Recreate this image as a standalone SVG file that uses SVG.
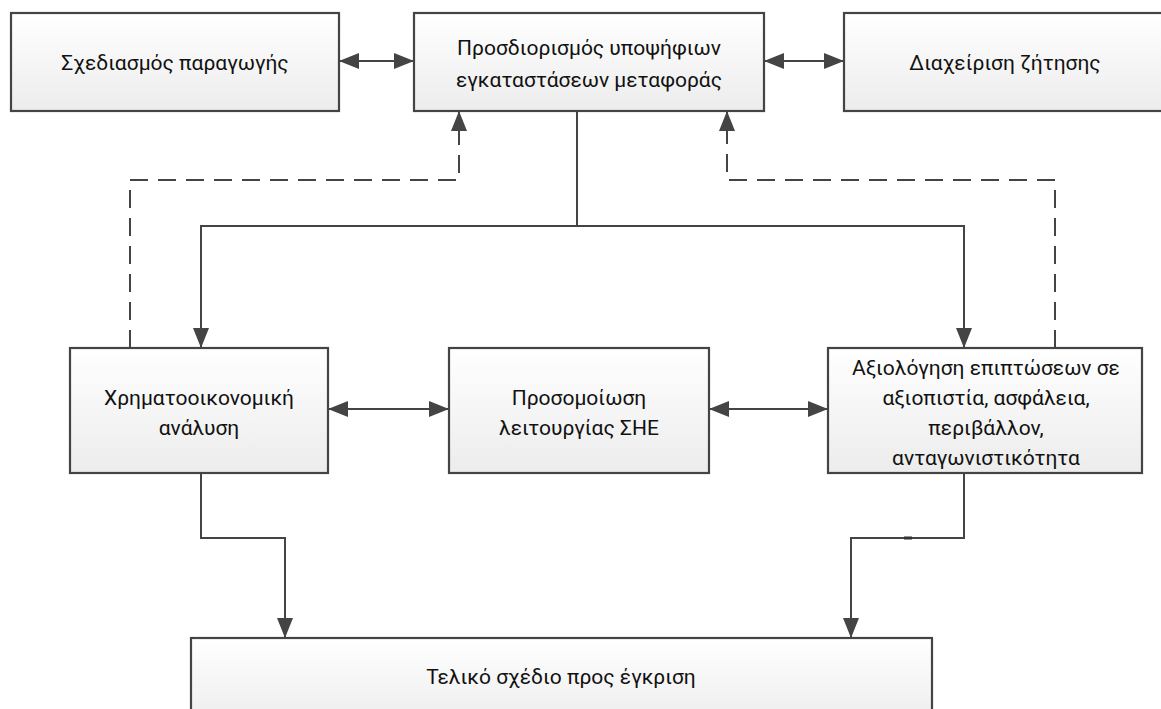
<svg xmlns="http://www.w3.org/2000/svg" width="1161" height="709" viewBox="0 0 1161 709">
<style>
.box{fill:url(#g);stroke:#444;stroke-width:2.2}
.t{font-family:Roboto,"Noto Sans",sans-serif;font-size:21px;fill:#111;text-anchor:middle}
.c{fill:none;stroke:#444;stroke-width:2}
.d{fill:none;stroke:#444;stroke-width:2;stroke-dasharray:18 10}
</style>
<defs>
<linearGradient id="g" x1="0" y1="0" x2="0" y2="1">
<stop offset="0" stop-color="#ffffff"/>
<stop offset="1" stop-color="#ececec"/>
</linearGradient>
<marker id="a" viewBox="0 0 20 16" refX="20" refY="8" markerWidth="20" markerHeight="16" markerUnits="userSpaceOnUse" orient="auto-start-reverse">
<path d="M0,0 L20,8 L0,16 Z" fill="#444"/>
</marker>
</defs>
<g id="connectors">
<path class="c" d="M339,61 H414" marker-start="url(#a)" marker-end="url(#a)"/>
<path class="c" d="M764,61 H844" marker-start="url(#a)" marker-end="url(#a)"/>
<path class="c" d="M577,111 V226 H201 V348" marker-end="url(#a)"/>
<path class="c" d="M577,226 H964 V348" marker-end="url(#a)"/>
<path class="d" d="M130,348 V180 H459 V111" marker-end="url(#a)"/>
<path class="d" d="M1055,348 V180 H727 V111" marker-end="url(#a)"/>
<path class="c" d="M328,409 H449" marker-start="url(#a)" marker-end="url(#a)"/>
<path class="c" d="M709,409 H828" marker-start="url(#a)" marker-end="url(#a)"/>
<path class="c" d="M201,473 V538 H285 V638" marker-end="url(#a)"/>
<path class="c" d="M964,473 V538 H851 V638" marker-end="url(#a)"/>
<rect x="904" y="536.5" width="8" height="3" fill="#333"/>
</g>
<g id="n1">
<rect class="box" x="11" y="13" width="328" height="98"/>
<text class="t" x="175" y="70">Σχεδιασμός παραγωγής</text>
</g>
<g id="n2">
<rect class="box" x="414" y="13" width="350" height="98"/>
<text class="t" x="589" y="55">Προσδιορισμός υποψήφιων</text>
<text class="t" x="589" y="87">εγκαταστάσεων μεταφοράς</text>
</g>
<g id="n3">
<rect class="box" x="844" y="13" width="324" height="98"/>
<text class="t" x="1005" y="70">Διαχείριση ζήτησης</text>
</g>
<g id="n4">
<rect class="box" x="70" y="348" width="258" height="125"/>
<text class="t" x="199" y="405">Χρηματοοικονομική</text>
<text class="t" x="199" y="435">ανάλυση</text>
</g>
<g id="n5">
<rect class="box" x="449" y="348" width="260" height="125"/>
<text class="t" x="579" y="405">Προσομοίωση</text>
<text class="t" x="579" y="435">λειτουργίας ΣΗΕ</text>
</g>
<g id="n6">
<rect class="box" x="828" y="348" width="314" height="125"/>
<text class="t" x="986" y="375">Αξιολόγηση επιπτώσεων σε</text>
<text class="t" x="986" y="405">αξιοπιστία, ασφάλεια,</text>
<text class="t" x="986" y="435">περιβάλλον,</text>
<text class="t" x="986" y="465">ανταγωνιστικότητα</text>
</g>
<g id="n7">
<rect class="box" x="191" y="638" width="741" height="90"/>
<text class="t" x="561" y="684">Τελικό σχέδιο προς έγκριση</text>
</g>
</svg>
